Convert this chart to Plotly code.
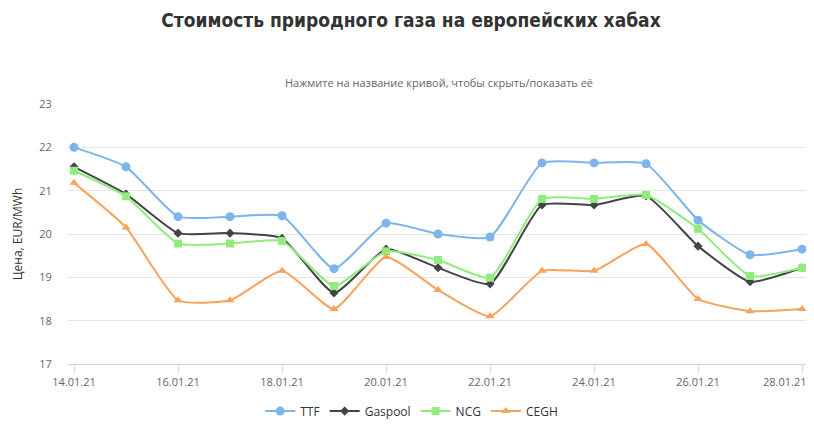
import pandas as pd
import plotly.graph_objects as go

dates = pd.date_range("2021-01-14", "2021-01-28", freq="D")
tick_dates = dates[::2]
tick_labels = [d.strftime("%d.%m.%y") for d in tick_dates]
last_label = tick_labels[-1]
# last label is drawn left of its tick (as in the original), so it goes in as an annotation
tick_labels[-1] = ""

ttf = [22.0, 21.55, 20.4, 20.4, 20.42, 19.2, 20.25, 20.0, 19.93, 21.64, 21.64, 21.62, 20.32, 19.52, 19.65]
gaspool = [21.55, 20.92, 20.02, 20.02, 19.9, 18.64, 19.65, 19.22, 18.85, 20.67, 20.67, 20.88, 19.72, 18.9, 19.22]
ncg = [21.46, 20.87, 19.78, 19.78, 19.84, 18.8, 19.6, 19.4, 18.99, 20.81, 20.81, 20.9, 20.12, 19.03, 19.22]
cegh = [21.18, 20.15, 18.47, 18.47, 19.15, 18.27, 19.47, 18.71, 18.1, 19.15, 19.15, 19.77, 18.5, 18.22, 18.27]

series = [
    ("TTF", ttf, "#7cb5ec", "circle", 9),
    ("Gaspool", gaspool, "#434348", "diamond", 7),
    ("NCG", ncg, "#90ed7d", "square", 8),
    ("CEGH", cegh, "#f7a35c", "triangle-up", 8),
]

fig = go.Figure()
for name, vals, color, symbol, size in series:
    fig.add_trace(go.Scatter(
        x=dates, y=vals, name=name, mode="lines+markers",
        line=dict(color=color, width=2, shape="spline", smoothing=0.5),
        marker=dict(color=color, symbol=symbol, size=size),
    ))

# page body has an 8px margin, so the figure is a bit smaller than the window
fig.update_layout(
    width=806, height=416,
    paper_bgcolor="white", plot_bgcolor="white",
    font=dict(family="Open Sans, DejaVu Sans, sans-serif", color="#333333"),
    title=dict(
        text="<b>Стоимость природного газа на европейских хабах</b>",
        x=0.5, xanchor="center", y=0.971, yanchor="middle",
        font=dict(family="DejaVu Sans Condensed, Liberation Sans Narrow, sans-serif", size=19, color="#333333"),
    ),
    annotations=[
        dict(
            text="Нажмите на название кривой, чтобы скрыть/показать её",
            xref="paper", yref="paper", x=0.5, y=1.0, yshift=22,
            xanchor="center", yanchor="middle", showarrow=False,
            font=dict(size=11, color="#666666"),
        ),
        dict(
            text=last_label, xref="x", yref="paper", x=tick_dates[-1], y=0,
            xanchor="right", yanchor="middle", xshift=7, yshift=-17,
            showarrow=False, font=dict(size=11, color="#666666"),
        ),
    ],
    margin=dict(l=59, r=4, t=96, b=60),
    showlegend=True,
    legend=dict(
        orientation="h", x=0.464, xanchor="center",
        yref="container", y=0.031, yanchor="middle",
        font=dict(size=12, color="#333333"),
    ),
    xaxis=dict(
        range=[pd.Timestamp("2021-01-13 20:45"), pd.Timestamp("2021-01-28 03:40")],
        tickvals=tick_dates, ticktext=tick_labels,
        automargin=False,
        showgrid=False, showline=True, linecolor="#ccd6eb", linewidth=1,
        ticks="outside", tickcolor="#ccd6eb", ticklen=8,
        tickfont=dict(size=11, color="#666666"),
    ),
    yaxis=dict(
        range=[17, 23], dtick=1, automargin=False,
        gridcolor="#e6e6e6", zeroline=False,
        # invisible ticks just to push the labels away from the plot
        ticks="outside", ticklen=12, tickcolor="rgba(0,0,0,0)",
        tickfont=dict(size=11, color="#666666"),
        title=dict(text="Цена, EUR/MWh", font=dict(size=12, color="#333333"), standoff=14),
    ),
)

fig.write_html("out.html")
